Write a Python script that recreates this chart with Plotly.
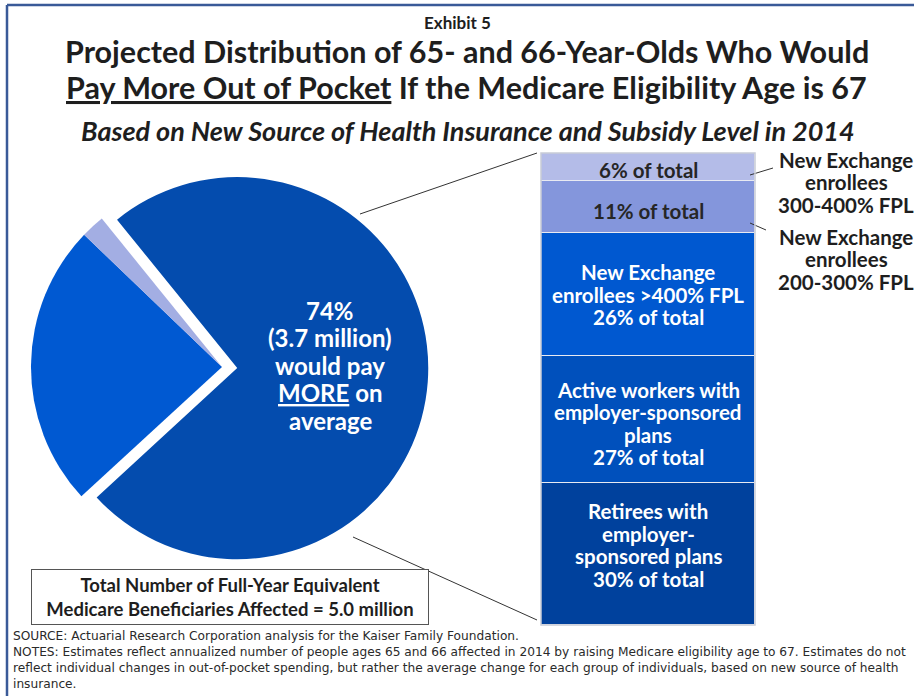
import plotly.graph_objects as go

W, H = 914, 696

# Pie: share of 65/66-year-olds by out-of-pocket outcome
pie_labels = ["Would pay more", "Other group A", "Other group B"]
pie_values = [74, 24, 2]
pie_colors = ["#044CAE", "#0059D2", "#A3AEE3"]
pay_more_millions = 3.7

# Stacked bar: breakdown of those who would pay more (bottom to top)
seg_names = [
    ["Retirees with", "employer-", "sponsored plans"],
    ["Active workers with", "employer-sponsored", "plans"],
    ["New Exchange", "enrollees >400% FPL"],
    [],
    [],
]
seg_values = [30, 27, 26, 11, 6]
seg_colors = ["#00419D", "#0050BC", "#0058D0", "#8496DC", "#B4BCE8"]
seg_text_colors = ["white", "white", "white", "#262626", "#262626"]

side_labels = [["New Exchange", "enrollees", "300-400% FPL"],
               ["New Exchange", "enrollees", "200-300% FPL"]]

FONT = "Lato"
DARK = "#1E1E1E"


def px(x):
    return x / W


def py(y):
    return 1 - y / H


fig = go.Figure()

fig.add_trace(go.Pie(
    labels=pie_labels, values=pie_values, sort=False, direction="clockwise",
    rotation=-39, pull=[0.08, 0, 0],
    marker=dict(colors=pie_colors, line=dict(width=0)),
    textinfo="none", hoverinfo="skip", showlegend=False,
    domain=dict(x=[px(15.7), px(428.3)], y=[py(573.3), py(160.7)]),
))

for v, c in zip(seg_values, seg_colors):
    fig.add_trace(go.Bar(
        x=[0], y=[v], width=1, marker=dict(color=c, line=dict(color="#E8EAF2", width=1.5)),
        hoverinfo="skip", showlegend=False, xaxis="x", yaxis="y",
    ))

fig.update_layout(
    width=W, height=H, margin=dict(l=0, r=0, t=0, b=0),
    paper_bgcolor="white", plot_bgcolor="white",
    barmode="stack", bargap=0,
    font=dict(family=FONT, color=DARK),
    xaxis=dict(domain=[px(541), px(755)], range=[-0.5, 0.5], visible=False, fixedrange=True),
    yaxis=dict(domain=[py(625), py(153)], range=[0, sum(seg_values)], visible=False, fixedrange=True),
)

ann = []


def text(x, y, s, size, color=DARK, align="center", xanchor="center", family=FONT, **kw):
    ann.append(dict(x=px(x), y=py(y), xref="paper", yref="paper", text=s,
                    showarrow=False, xanchor=xanchor, yanchor="middle", align=align,
                    font=dict(family=family, size=size, color=color), **kw))


text(457, 22, "<b>Exhibit 5</b>", 17)
text(467, 51, "<b>Projected Distribution of 65- and 66-Year-Olds Who Would</b>", 30.5)
text(467, 87, "<b><u>Pay More Out of Pocket</u> If the Medicare Eligibility Age is 67</b>", 30.5)
text(468, 131, "<b><i>Based on New Source of Health Insurance and Subsidy Level in 2014</i></b>", 27)

# label lines inside each bar segment, centred on the segment (pixel nudge, + is down)
LINE = 22.5
nudge = [-9, 4, 0, 4, 3]
base = 0
for k, (names, v, tc) in enumerate(zip(seg_names, seg_values, seg_text_colors)):
    lines = names + [f"{v}% of total"]
    mid = base + v / 2
    n = len(lines)
    for i, line in enumerate(lines):
        ann.append(dict(x=0, y=mid, xref="x", yref="y", text=f"<b>{line}</b>",
                        showarrow=False, xanchor="center", yanchor="middle",
                        yshift=-((i - (n - 1) / 2) * LINE) - nudge[k],
                        font=dict(family=FONT, size=20.5, color=tc)))
    base += v

pie_lines = [f"{pie_values[0]}%", f"({pay_more_millions} million)", "would pay",
             "<u>MORE</u> on", "average"]
for i, line in enumerate(pie_lines):
    text(330, 310 + 27.5 * i, f"<b>{line}</b>", 24, color="white")

for j, lab in enumerate(side_labels):
    for i, line in enumerate(lab):
        text(846, 160 + 77 * j + 22.5 * i, f"<b>{line}</b>", 20.5)

text(230, 597, "<b>Total Number of Full-Year Equivalent<br>Medicare Beneficiaries Affected = 5.0 million</b>", 18.5,
     bordercolor="#555555", borderwidth=1, borderpad=4, bgcolor="white", width=388)

notes = [
    "SOURCE: Actuarial Research Corporation analysis for the Kaiser Family Foundation.",
    "NOTES: Estimates reflect annualized number of people ages 65 and 66 affected in 2014 by raising Medicare eligibility age to 67. Estimates do not",
    "reflect individual changes in out-of-pocket spending, but rather the average change for each group of individuals, based on new source of health",
    "insurance.",
]
text(12, 660, "<br>".join(notes), 12.2, color="#2A2A2A", align="left", xanchor="left",
     family="DejaVu Sans", borderpad=0)

fig.update_layout(annotations=ann)

shapes = []


def seg(x0, y0, x1, y1, color="#333333", width=1):
    shapes.append(dict(type="line", xref="paper", yref="paper",
                       x0=px(x0), y0=py(y0), x1=px(x1), y1=py(y1),
                       line=dict(color=color, width=width)))


# frame
seg(7, 5, W, 5, color="#3A5A98", width=2.5)
seg(7, 5, 7, H, color="#3A5A98", width=2.5)
# pie-to-bar connectors
seg(360, 214, 537, 153)
seg(353, 537, 537, 620)
# side label callouts
seg(750, 175, 773, 168)
seg(750, 223, 766, 230)
# bar outline
shapes.append(dict(type="rect", xref="paper", yref="paper",
                   x0=px(541), y0=py(625), x1=px(755), y1=py(153),
                   line=dict(color="#C8CBD6", width=1.5)))

fig.update_layout(shapes=shapes)

fig.write_html("out.html")
